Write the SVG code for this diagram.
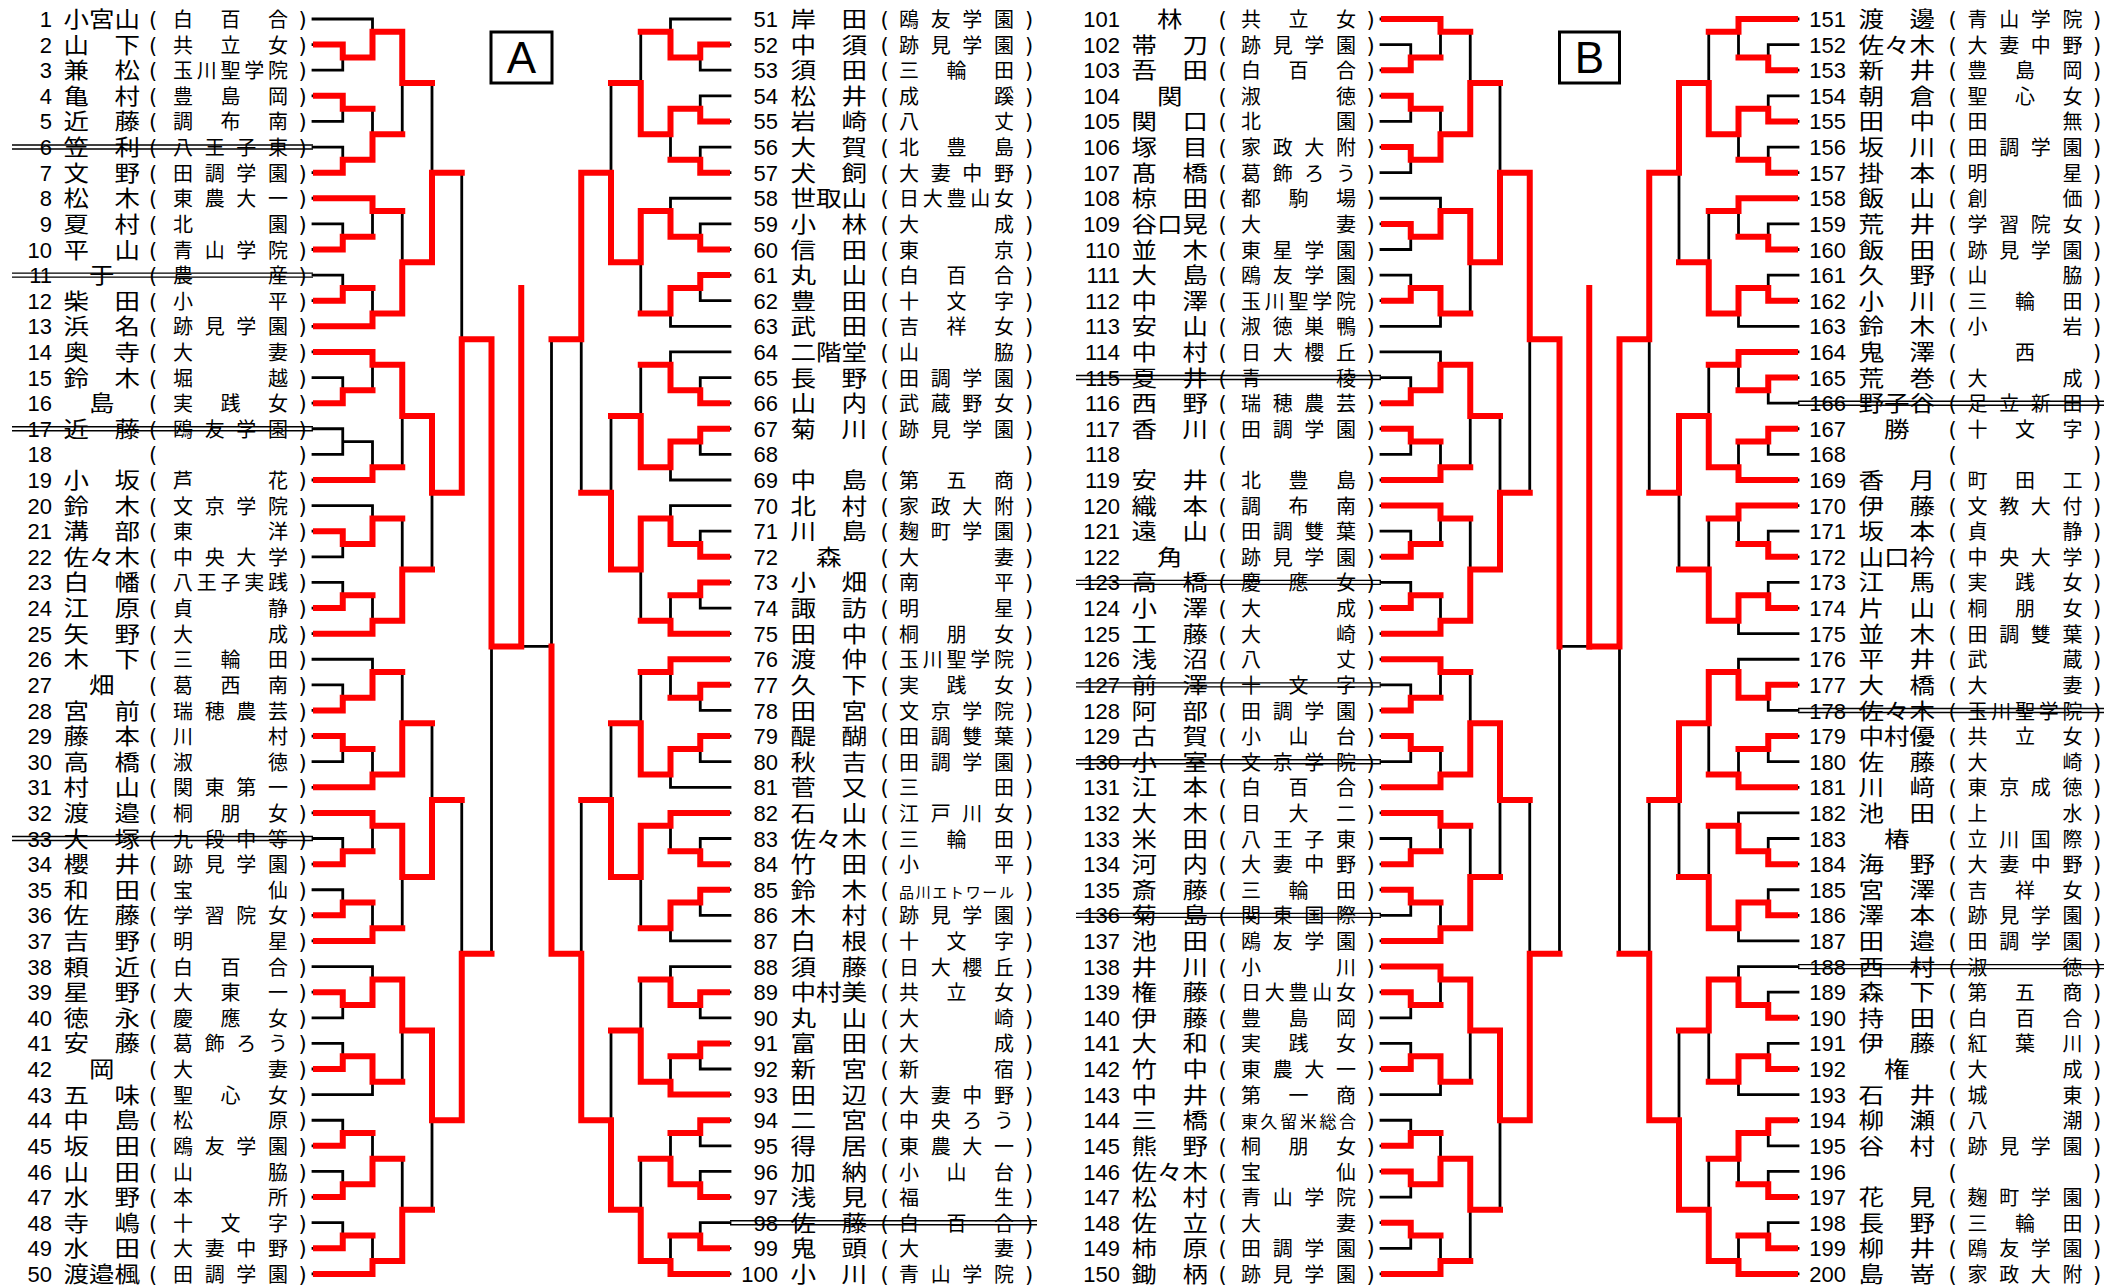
<svg xmlns="http://www.w3.org/2000/svg" width="2104" height="1286" viewBox="0 0 2104 1286">
<style>
text{fill:#000}
.n{font-family:"Liberation Sans",Arial,sans-serif;font-size:22px;text-anchor:end}
.m{font-family:"Noto Sans CJK JP","Noto Sans CJK SC",sans-serif;font-size:22px}
.s{font-family:"Noto Sans CJK JP","Noto Sans CJK SC",sans-serif;font-size:20px}
.p{font-family:"DejaVu Sans","Liberation Sans",sans-serif;font-size:21px}
.sk{fill:none;stroke:#000;stroke-width:2.8;stroke-linecap:square;vector-effect:non-scaling-stroke}
.rd{fill:none;stroke:#f00;stroke-width:6;stroke-linecap:square;stroke-linejoin:miter;vector-effect:non-scaling-stroke}
.st{fill:none;stroke:#000;stroke-width:1.4}
.bx{fill:#fff;stroke:#000;stroke-width:3}
.lb{font-family:"Liberation Sans",Arial,sans-serif;font-size:44px;text-anchor:middle}
</style>
<defs>
<path id="sk" class="sk" d="M0 1H2M0 8H2M0 13H2M0 14H2M0 19H2M0 20H2M0 25H2M0 26H2M0 31H2M0 32H2M0 37H2M0 38H2M0 43H2M0 50H2M0 2H1V3H0M0 4H1V5H0M0 6H1V7H0M0 9H1V10H0M0 11H1V12H0M0 15H1V16H0M0 17H1V18H0M0 21H1V22H0M0 23H1V24H0M0 27H1V28H0M0 29H1V30H0M0 33H1V34H0M0 35H1V36H0M0 39H1V40H0M0 41H1V42H0M0 44H1V45H0M0 46H1V47H0M0 48H1V49H0M1 2.5H2M1 4.5H2M1 6.5H2M1 9.5H2M1 11.5H2M1 15.5H2M1 17.5H2M1 21.5H2M1 23.5H2M1 27.5H2M1 29.5H2M1 33.5H2M1 35.5H2M1 39.5H2M1 41.5H2M1 44.5H2M1 46.5H2M1 48.5H2M2 1V2.5M2 4.5V6.5M2 8V9.5M2 11.5V13M2 14V15.5M2 17.5V19M2 20V21.5M2 23.5V25M2 26V27.5M2 29.5V31M2 32V33.5M2 35.5V37M2 38V39.5M2 41.5V43M2 44.5V46.5M2 48.5V50M2 1.5H3M2 5.5H3M2 8.5H3M2 12.5H3M2 14.5H3M2 18.5H3M2 20.5H3M2 24.5H3M2 26.5H3M2 30.5H3M2 32.5H3M2 36.5H3M2 38.5H3M2 42.5H3M2 45.5H3M2 49.5H3M3 1.5V5.5M3 8.5V12.5M3 14.5V18.5M3 20.5V24.5M3 26.5V30.5M3 32.5V36.5M3 38.5V42.5M3 45.5V49.5M3 3.5H4M3 10.5H4M3 16.5H4M3 22.5H4M3 28.5H4M3 34.5H4M3 40.5H4M3 47.5H4M4 3.5V10.5M4 16.5V22.5M4 28.5V34.5M4 40.5V47.5M4 7H5M4 19.5H5M4 31.5H5M4 44H5M5 7V19.5M5 31.5V44M5 13.5H6M5 37.5H6M6 13.5V37.5M6 25.5H7"/>
</defs>
<g id="connectors">
<use href="#sk" transform="matrix(29.75 0 0 25.61 313 -6.61)"/>
<use href="#sk" transform="matrix(-29.75 0 0 25.61 730 -6.61)"/>
<use href="#sk" transform="matrix(29.75 0 0 25.61 1381 -6.61)"/>
<use href="#sk" transform="matrix(-29.75 0 0 25.61 1798 -6.61)"/>
<path class="rd" transform="matrix(29.75 0 0 25.61 313 -6.61)" d="M.1 2H1V2.5H2M.1 4H1V4.5H2M.1 7H1V6.5H2M.1 10H1V9.5H2M.1 12H1V11.5H2M.1 16H1V15.5H2M.1 21H1V21.5H2M.1 24H1V23.5H2M.1 28H1V27.5H2M.1 29H1V29.5H2M.1 34H1V33.5H2M.1 36H1V35.5H2M.1 39H1V39.5H2M.1 42H1V41.5H2M.1 45H1V44.5H2M.1 47H1V46.5H2M.1 49H1V48.5H2M2 2.5V1.5H3M2 6.5V5.5H3M.1 8H2V8.5H3M.1 13H2V12.5H3M.1 14H2V14.5H3M.1 19H2V18.5H3M2 21.5V20.5H3M.1 25H2V24.5H3M2 27.5V26.5H3M.1 31H2V30.5H3M.1 32H2V32.5H3M.1 37H2V36.5H3M2 39.5V38.5H3M2 41.5V42.5H3M2 46.5V45.5H3M.1 50H2V49.5H3M3 1.5V3.5H4M3 12.5V10.5H4M3 14.5V16.5H4M3 24.5V22.5H4M3 30.5V28.5H4M3 32.5V34.5H4M3 38.5V40.5H4M3 49.5V47.5H4M4 10.5V7H5M4 16.5V19.5H5M4 34.5V31.5H5M4 40.5V44H5M5 19.5V13.5H6M5 44V37.5H6M6 13.5V25.5H7M7 11.5V25.5"/>
<path class="rd" transform="matrix(-29.75 0 0 25.61 730 -6.61)" d="M.1 2H1V2.5H2M.1 5H1V4.5H2M.1 7H1V6.5H2M.1 10H1V9.5H2M.1 11H1V11.5H2M.1 16H1V15.5H2M.1 17H1V17.5H2M.1 22H1V21.5H2M.1 23H1V23.5H2M.1 27H1V27.5H2M.1 29H1V29.5H2M.1 34H1V33.5H2M.1 35H1V35.5H2M.1 39H1V39.5H2M.1 41H1V41.5H2M.1 44H1V44.5H2M.1 47H1V46.5H2M.1 49H1V48.5H2M2 2.5V1.5H3M2 4.5V5.5H3M2 9.5V8.5H3M2 11.5V12.5H3M2 15.5V14.5H3M2 17.5V18.5H3M2 21.5V20.5H3M.1 25H2V24.5H3M.1 26H2V26.5H3M2 29.5V30.5H3M.1 32H2V32.5H3M2 35.5V36.5H3M2 39.5V38.5H3M.1 43H2V42.5H3M2 46.5V45.5H3M.1 50H2V49.5H3M3 5.5V3.5H4M3 8.5V10.5H4M3 18.5V16.5H4M3 20.5V22.5H4M3 30.5V28.5H4M3 32.5V34.5H4M3 42.5V40.5H4M3 49.5V47.5H4M4 10.5V7H5M4 22.5V19.5H5M4 34.5V31.5H5M4 47.5V44H5M5 7V13.5H6M5 44V37.5H6M6 37.5V25.5"/>
<path class="rd" transform="matrix(29.75 0 0 25.61 1381 -6.61)" d="M.1 3H1V2.5H2M.1 4H1V4.5H2M.1 6H1V6.5H2M.1 9H1V9.5H2M.1 12H1V11.5H2M.1 16H1V15.5H2M.1 17H1V17.5H2M.1 22H1V21.5H2M.1 24H1V23.5H2M.1 28H1V27.5H2M.1 29H1V29.5H2M.1 34H1V33.5H2M.1 35H1V35.5H2M.1 39H1V39.5H2M.1 42H1V41.5H2M.1 45H1V44.5H2M.1 46H1V46.5H2M.1 48H1V48.5H2M.1 1H2V1.5H3M2 6.5V5.5H3M2 9.5V8.5H3M2 11.5V12.5H3M2 15.5V14.5H3M.1 19H2V18.5H3M.1 20H2V20.5H3M.1 25H2V24.5H3M.1 26H2V26.5H3M.1 31H2V30.5H3M.1 32H2V32.5H3M.1 37H2V36.5H3M.1 38H2V38.5H3M2 41.5V42.5H3M2 46.5V45.5H3M.1 50H2V49.5H3M3 5.5V3.5H4M3 8.5V10.5H4M3 14.5V16.5H4M3 24.5V22.5H4M3 30.5V28.5H4M3 36.5V34.5H4M3 38.5V40.5H4M3 45.5V47.5H4M4 10.5V7H5M4 22.5V19.5H5M4 28.5V31.5H5M4 40.5V44H5M5 7V13.5H6M5 44V37.5H6M6 13.5V25.5M7 11.5V25.5"/>
<path class="rd" transform="matrix(-29.75 0 0 25.61 1798 -6.61)" d="M.1 3H1V2.5H2M.1 5H1V4.5H2M.1 7H1V6.5H2M.1 10H1V9.5H2M.1 12H1V11.5H2M.1 15H1V15.5H2M.1 17H1V17.5H2M.1 22H1V21.5H2M.1 24H1V23.5H2M.1 27H1V27.5H2M.1 29H1V29.5H2M.1 34H1V33.5H2M.1 36H1V35.5H2M.1 40H1V39.5H2M.1 42H1V41.5H2M.1 44H1V44.5H2M.1 47H1V46.5H2M.1 49H1V48.5H2M.1 1H2V1.5H3M2 4.5V5.5H3M.1 8H2V8.5H3M2 11.5V12.5H3M.1 14H2V14.5H3M.1 19H2V18.5H3M.1 20H2V20.5H3M2 23.5V24.5H3M2 27.5V26.5H3M.1 31H2V30.5H3M2 33.5V32.5H3M2 35.5V36.5H3M2 39.5V38.5H3M2 41.5V42.5H3M2 44.5V45.5H3M.1 50H2V49.5H3M3 5.5V3.5H4M3 12.5V10.5H4M3 18.5V16.5H4M3 24.5V22.5H4M3 26.5V28.5H4M3 36.5V34.5H4M3 38.5V40.5H4M3 49.5V47.5H4M4 3.5V7H5M4 16.5V19.5H5M4 28.5V31.5H5M4 47.5V44H5M5 7V13.5H6M5 44V37.5H6M6 13.5V25.5H7"/>
</g>
<g id="strikes">
<path class="st" d="M12 145.05H313M12 149.05H313M12 273.1H313M12 277.1H313M12 426.8H313M12 430.8H313M12 836.5H313M12 840.5H313M730 1220.7H1037M730 1224.7H1037M1076 375.5H1381M1076 379.5H1381M1076 580.4H1381M1076 584.4H1381M1076 682.9H1381M1076 686.9H1381M1076 759.7H1381M1076 763.7H1381M1076 913.4H1381M1076 917.4H1381M1798 401.2H2104M1798 405.2H2104M1798 708.5H2104M1798 712.5H2104M1798 964.6H2104M1798 968.6H2104"/>
</g>
<g id="boxA"><rect class="bx" x="491" y="32" width="61" height="51"/><text class="lb" x="521.5" y="73">A</text></g>
<g id="boxB"><rect class="bx" x="1559.5" y="32" width="60" height="51"/><text class="lb" x="1589.5" y="73">B</text></g>
<g id="colA">
<g id="e1"><text class="n" x="52" y="27">1</text><text y="27"><tspan class="m" x="63.6" textLength="76.4" lengthAdjust="spacingAndGlyphs">小宮山</tspan><tspan class="p" x="149">(</tspan><tspan class="s" x="173" textLength="115">白百合</tspan><tspan class="p" x="298.5">)</tspan></text></g>
<g id="e2"><text class="n" x="52" y="52.6">2</text><text y="52.6"><tspan class="m" x="63.6" textLength="76.4" lengthAdjust="spacingAndGlyphs">山　下</tspan><tspan class="p" x="149">(</tspan><tspan class="s" x="173" textLength="115">共立女</tspan><tspan class="p" x="298.5">)</tspan></text></g>
<g id="e3"><text class="n" x="52" y="78.2">3</text><text y="78.2"><tspan class="m" x="63.6" textLength="76.4" lengthAdjust="spacingAndGlyphs">兼　松</tspan><tspan class="p" x="149">(</tspan><tspan class="s" x="173" textLength="115">玉川聖学院</tspan><tspan class="p" x="298.5">)</tspan></text></g>
<g id="e4"><text class="n" x="52" y="103.8">4</text><text y="103.8"><tspan class="m" x="63.6" textLength="76.4" lengthAdjust="spacingAndGlyphs">亀　村</tspan><tspan class="p" x="149">(</tspan><tspan class="s" x="173" textLength="115">豊島岡</tspan><tspan class="p" x="298.5">)</tspan></text></g>
<g id="e5"><text class="n" x="52" y="129.4">5</text><text y="129.4"><tspan class="m" x="63.6" textLength="76.4" lengthAdjust="spacingAndGlyphs">近　藤</tspan><tspan class="p" x="149">(</tspan><tspan class="s" x="173" textLength="115">調布南</tspan><tspan class="p" x="298.5">)</tspan></text></g>
<g id="e6"><text class="n" x="52" y="155.1">6</text><text y="155.1"><tspan class="m" x="63.6" textLength="76.4" lengthAdjust="spacingAndGlyphs">笠　利</tspan><tspan class="p" x="149">(</tspan><tspan class="s" x="173" textLength="115">八王子東</tspan><tspan class="p" x="298.5">)</tspan></text></g>
<g id="e7"><text class="n" x="52" y="180.7">7</text><text y="180.7"><tspan class="m" x="63.6" textLength="76.4" lengthAdjust="spacingAndGlyphs">文　野</tspan><tspan class="p" x="149">(</tspan><tspan class="s" x="173" textLength="115">田調学園</tspan><tspan class="p" x="298.5">)</tspan></text></g>
<g id="e8"><text class="n" x="52" y="206.3">8</text><text y="206.3"><tspan class="m" x="63.6" textLength="76.4" lengthAdjust="spacingAndGlyphs">松　木</tspan><tspan class="p" x="149">(</tspan><tspan class="s" x="173" textLength="115">東農大一</tspan><tspan class="p" x="298.5">)</tspan></text></g>
<g id="e9"><text class="n" x="52" y="231.9">9</text><text y="231.9"><tspan class="m" x="63.6" textLength="76.4" lengthAdjust="spacingAndGlyphs">夏　村</tspan><tspan class="p" x="149">(</tspan><tspan class="s" x="173" textLength="115">北園</tspan><tspan class="p" x="298.5">)</tspan></text></g>
<g id="e10"><text class="n" x="52" y="257.5">10</text><text y="257.5"><tspan class="m" x="63.6" textLength="76.4" lengthAdjust="spacingAndGlyphs">平　山</tspan><tspan class="p" x="149">(</tspan><tspan class="s" x="173" textLength="115">青山学院</tspan><tspan class="p" x="298.5">)</tspan></text></g>
<g id="e11"><text class="n" x="52" y="283.1">11</text><text y="283.1"><tspan class="m" x="63.6" textLength="76.4" lengthAdjust="spacingAndGlyphs">　于　</tspan><tspan class="p" x="149">(</tspan><tspan class="s" x="173" textLength="115">農産</tspan><tspan class="p" x="298.5">)</tspan></text></g>
<g id="e12"><text class="n" x="52" y="308.7">12</text><text y="308.7"><tspan class="m" x="63.6" textLength="76.4" lengthAdjust="spacingAndGlyphs">柴　田</tspan><tspan class="p" x="149">(</tspan><tspan class="s" x="173" textLength="115">小平</tspan><tspan class="p" x="298.5">)</tspan></text></g>
<g id="e13"><text class="n" x="52" y="334.3">13</text><text y="334.3"><tspan class="m" x="63.6" textLength="76.4" lengthAdjust="spacingAndGlyphs">浜　名</tspan><tspan class="p" x="149">(</tspan><tspan class="s" x="173" textLength="115">跡見学園</tspan><tspan class="p" x="298.5">)</tspan></text></g>
<g id="e14"><text class="n" x="52" y="359.9">14</text><text y="359.9"><tspan class="m" x="63.6" textLength="76.4" lengthAdjust="spacingAndGlyphs">奥　寺</tspan><tspan class="p" x="149">(</tspan><tspan class="s" x="173" textLength="115">大妻</tspan><tspan class="p" x="298.5">)</tspan></text></g>
<g id="e15"><text class="n" x="52" y="385.5">15</text><text y="385.5"><tspan class="m" x="63.6" textLength="76.4" lengthAdjust="spacingAndGlyphs">鈴　木</tspan><tspan class="p" x="149">(</tspan><tspan class="s" x="173" textLength="115">堀越</tspan><tspan class="p" x="298.5">)</tspan></text></g>
<g id="e16"><text class="n" x="52" y="411.2">16</text><text y="411.2"><tspan class="m" x="63.6" textLength="76.4" lengthAdjust="spacingAndGlyphs">　島　</tspan><tspan class="p" x="149">(</tspan><tspan class="s" x="173" textLength="115">実践女</tspan><tspan class="p" x="298.5">)</tspan></text></g>
<g id="e17"><text class="n" x="52" y="436.8">17</text><text y="436.8"><tspan class="m" x="63.6" textLength="76.4" lengthAdjust="spacingAndGlyphs">近　藤</tspan><tspan class="p" x="149">(</tspan><tspan class="s" x="173" textLength="115">鴎友学園</tspan><tspan class="p" x="298.5">)</tspan></text></g>
<g id="e18"><text class="n" x="52" y="462.4">18</text><text y="462.4"><tspan class="p" x="149">(</tspan><tspan class="p" x="298.5">)</tspan></text></g>
<g id="e19"><text class="n" x="52" y="488">19</text><text y="488"><tspan class="m" x="63.6" textLength="76.4" lengthAdjust="spacingAndGlyphs">小　坂</tspan><tspan class="p" x="149">(</tspan><tspan class="s" x="173" textLength="115">芦花</tspan><tspan class="p" x="298.5">)</tspan></text></g>
<g id="e20"><text class="n" x="52" y="513.6">20</text><text y="513.6"><tspan class="m" x="63.6" textLength="76.4" lengthAdjust="spacingAndGlyphs">鈴　木</tspan><tspan class="p" x="149">(</tspan><tspan class="s" x="173" textLength="115">文京学院</tspan><tspan class="p" x="298.5">)</tspan></text></g>
<g id="e21"><text class="n" x="52" y="539.2">21</text><text y="539.2"><tspan class="m" x="63.6" textLength="76.4" lengthAdjust="spacingAndGlyphs">溝　部</tspan><tspan class="p" x="149">(</tspan><tspan class="s" x="173" textLength="115">東洋</tspan><tspan class="p" x="298.5">)</tspan></text></g>
<g id="e22"><text class="n" x="52" y="564.8">22</text><text y="564.8"><tspan class="m" x="63.6" textLength="76.4" lengthAdjust="spacingAndGlyphs">佐々木</tspan><tspan class="p" x="149">(</tspan><tspan class="s" x="173" textLength="115">中央大学</tspan><tspan class="p" x="298.5">)</tspan></text></g>
<g id="e23"><text class="n" x="52" y="590.4">23</text><text y="590.4"><tspan class="m" x="63.6" textLength="76.4" lengthAdjust="spacingAndGlyphs">白　幡</tspan><tspan class="p" x="149">(</tspan><tspan class="s" x="173" textLength="115">八王子実践</tspan><tspan class="p" x="298.5">)</tspan></text></g>
<g id="e24"><text class="n" x="52" y="616">24</text><text y="616"><tspan class="m" x="63.6" textLength="76.4" lengthAdjust="spacingAndGlyphs">江　原</tspan><tspan class="p" x="149">(</tspan><tspan class="s" x="173" textLength="115">貞静</tspan><tspan class="p" x="298.5">)</tspan></text></g>
<g id="e25"><text class="n" x="52" y="641.6">25</text><text y="641.6"><tspan class="m" x="63.6" textLength="76.4" lengthAdjust="spacingAndGlyphs">矢　野</tspan><tspan class="p" x="149">(</tspan><tspan class="s" x="173" textLength="115">大成</tspan><tspan class="p" x="298.5">)</tspan></text></g>
<g id="e26"><text class="n" x="52" y="667.3">26</text><text y="667.3"><tspan class="m" x="63.6" textLength="76.4" lengthAdjust="spacingAndGlyphs">木　下</tspan><tspan class="p" x="149">(</tspan><tspan class="s" x="173" textLength="115">三輪田</tspan><tspan class="p" x="298.5">)</tspan></text></g>
<g id="e27"><text class="n" x="52" y="692.9">27</text><text y="692.9"><tspan class="m" x="63.6" textLength="76.4" lengthAdjust="spacingAndGlyphs">　畑　</tspan><tspan class="p" x="149">(</tspan><tspan class="s" x="173" textLength="115">葛西南</tspan><tspan class="p" x="298.5">)</tspan></text></g>
<g id="e28"><text class="n" x="52" y="718.5">28</text><text y="718.5"><tspan class="m" x="63.6" textLength="76.4" lengthAdjust="spacingAndGlyphs">宮　前</tspan><tspan class="p" x="149">(</tspan><tspan class="s" x="173" textLength="115">瑞穂農芸</tspan><tspan class="p" x="298.5">)</tspan></text></g>
<g id="e29"><text class="n" x="52" y="744.1">29</text><text y="744.1"><tspan class="m" x="63.6" textLength="76.4" lengthAdjust="spacingAndGlyphs">藤　本</tspan><tspan class="p" x="149">(</tspan><tspan class="s" x="173" textLength="115">川村</tspan><tspan class="p" x="298.5">)</tspan></text></g>
<g id="e30"><text class="n" x="52" y="769.7">30</text><text y="769.7"><tspan class="m" x="63.6" textLength="76.4" lengthAdjust="spacingAndGlyphs">高　橋</tspan><tspan class="p" x="149">(</tspan><tspan class="s" x="173" textLength="115">淑徳</tspan><tspan class="p" x="298.5">)</tspan></text></g>
<g id="e31"><text class="n" x="52" y="795.3">31</text><text y="795.3"><tspan class="m" x="63.6" textLength="76.4" lengthAdjust="spacingAndGlyphs">村　山</tspan><tspan class="p" x="149">(</tspan><tspan class="s" x="173" textLength="115">関東第一</tspan><tspan class="p" x="298.5">)</tspan></text></g>
<g id="e32"><text class="n" x="52" y="820.9">32</text><text y="820.9"><tspan class="m" x="63.6" textLength="76.4" lengthAdjust="spacingAndGlyphs">渡　邉</tspan><tspan class="p" x="149">(</tspan><tspan class="s" x="173" textLength="115">桐朋女</tspan><tspan class="p" x="298.5">)</tspan></text></g>
<g id="e33"><text class="n" x="52" y="846.5">33</text><text y="846.5"><tspan class="m" x="63.6" textLength="76.4" lengthAdjust="spacingAndGlyphs">大　塚</tspan><tspan class="p" x="149">(</tspan><tspan class="s" x="173" textLength="115">九段中等</tspan><tspan class="p" x="298.5">)</tspan></text></g>
<g id="e34"><text class="n" x="52" y="872.1">34</text><text y="872.1"><tspan class="m" x="63.6" textLength="76.4" lengthAdjust="spacingAndGlyphs">櫻　井</tspan><tspan class="p" x="149">(</tspan><tspan class="s" x="173" textLength="115">跡見学園</tspan><tspan class="p" x="298.5">)</tspan></text></g>
<g id="e35"><text class="n" x="52" y="897.7">35</text><text y="897.7"><tspan class="m" x="63.6" textLength="76.4" lengthAdjust="spacingAndGlyphs">和　田</tspan><tspan class="p" x="149">(</tspan><tspan class="s" x="173" textLength="115">宝仙</tspan><tspan class="p" x="298.5">)</tspan></text></g>
<g id="e36"><text class="n" x="52" y="923.4">36</text><text y="923.4"><tspan class="m" x="63.6" textLength="76.4" lengthAdjust="spacingAndGlyphs">佐　藤</tspan><tspan class="p" x="149">(</tspan><tspan class="s" x="173" textLength="115">学習院女</tspan><tspan class="p" x="298.5">)</tspan></text></g>
<g id="e37"><text class="n" x="52" y="949">37</text><text y="949"><tspan class="m" x="63.6" textLength="76.4" lengthAdjust="spacingAndGlyphs">吉　野</tspan><tspan class="p" x="149">(</tspan><tspan class="s" x="173" textLength="115">明星</tspan><tspan class="p" x="298.5">)</tspan></text></g>
<g id="e38"><text class="n" x="52" y="974.6">38</text><text y="974.6"><tspan class="m" x="63.6" textLength="76.4" lengthAdjust="spacingAndGlyphs">頼　近</tspan><tspan class="p" x="149">(</tspan><tspan class="s" x="173" textLength="115">白百合</tspan><tspan class="p" x="298.5">)</tspan></text></g>
<g id="e39"><text class="n" x="52" y="1000.2">39</text><text y="1000.2"><tspan class="m" x="63.6" textLength="76.4" lengthAdjust="spacingAndGlyphs">星　野</tspan><tspan class="p" x="149">(</tspan><tspan class="s" x="173" textLength="115">大東一</tspan><tspan class="p" x="298.5">)</tspan></text></g>
<g id="e40"><text class="n" x="52" y="1025.8">40</text><text y="1025.8"><tspan class="m" x="63.6" textLength="76.4" lengthAdjust="spacingAndGlyphs">徳　永</tspan><tspan class="p" x="149">(</tspan><tspan class="s" x="173" textLength="115">慶應女</tspan><tspan class="p" x="298.5">)</tspan></text></g>
<g id="e41"><text class="n" x="52" y="1051.4">41</text><text y="1051.4"><tspan class="m" x="63.6" textLength="76.4" lengthAdjust="spacingAndGlyphs">安　藤</tspan><tspan class="p" x="149">(</tspan><tspan class="s" x="173" textLength="115">葛飾ろう</tspan><tspan class="p" x="298.5">)</tspan></text></g>
<g id="e42"><text class="n" x="52" y="1077">42</text><text y="1077"><tspan class="m" x="63.6" textLength="76.4" lengthAdjust="spacingAndGlyphs">　岡　</tspan><tspan class="p" x="149">(</tspan><tspan class="s" x="173" textLength="115">大妻</tspan><tspan class="p" x="298.5">)</tspan></text></g>
<g id="e43"><text class="n" x="52" y="1102.6">43</text><text y="1102.6"><tspan class="m" x="63.6" textLength="76.4" lengthAdjust="spacingAndGlyphs">五　味</tspan><tspan class="p" x="149">(</tspan><tspan class="s" x="173" textLength="115">聖心女</tspan><tspan class="p" x="298.5">)</tspan></text></g>
<g id="e44"><text class="n" x="52" y="1128.2">44</text><text y="1128.2"><tspan class="m" x="63.6" textLength="76.4" lengthAdjust="spacingAndGlyphs">中　島</tspan><tspan class="p" x="149">(</tspan><tspan class="s" x="173" textLength="115">松原</tspan><tspan class="p" x="298.5">)</tspan></text></g>
<g id="e45"><text class="n" x="52" y="1153.8">45</text><text y="1153.8"><tspan class="m" x="63.6" textLength="76.4" lengthAdjust="spacingAndGlyphs">坂　田</tspan><tspan class="p" x="149">(</tspan><tspan class="s" x="173" textLength="115">鴎友学園</tspan><tspan class="p" x="298.5">)</tspan></text></g>
<g id="e46"><text class="n" x="52" y="1179.5">46</text><text y="1179.5"><tspan class="m" x="63.6" textLength="76.4" lengthAdjust="spacingAndGlyphs">山　田</tspan><tspan class="p" x="149">(</tspan><tspan class="s" x="173" textLength="115">山脇</tspan><tspan class="p" x="298.5">)</tspan></text></g>
<g id="e47"><text class="n" x="52" y="1205.1">47</text><text y="1205.1"><tspan class="m" x="63.6" textLength="76.4" lengthAdjust="spacingAndGlyphs">水　野</tspan><tspan class="p" x="149">(</tspan><tspan class="s" x="173" textLength="115">本所</tspan><tspan class="p" x="298.5">)</tspan></text></g>
<g id="e48"><text class="n" x="52" y="1230.7">48</text><text y="1230.7"><tspan class="m" x="63.6" textLength="76.4" lengthAdjust="spacingAndGlyphs">寺　嶋</tspan><tspan class="p" x="149">(</tspan><tspan class="s" x="173" textLength="115">十文字</tspan><tspan class="p" x="298.5">)</tspan></text></g>
<g id="e49"><text class="n" x="52" y="1256.3">49</text><text y="1256.3"><tspan class="m" x="63.6" textLength="76.4" lengthAdjust="spacingAndGlyphs">水　田</tspan><tspan class="p" x="149">(</tspan><tspan class="s" x="173" textLength="115">大妻中野</tspan><tspan class="p" x="298.5">)</tspan></text></g>
<g id="e50"><text class="n" x="52" y="1281.9">50</text><text y="1281.9"><tspan class="m" x="63.6" textLength="76.4" lengthAdjust="spacingAndGlyphs">渡邉楓</tspan><tspan class="p" x="149">(</tspan><tspan class="s" x="173" textLength="115">田調学園</tspan><tspan class="p" x="298.5">)</tspan></text></g>
</g>
<g id="colB">
<g id="e51"><text class="n" x="778" y="27">51</text><text y="27"><tspan class="m" x="790.4" textLength="76.8" lengthAdjust="spacingAndGlyphs">岸　田</tspan><tspan class="p" x="880.5">(</tspan><tspan class="s" x="899" textLength="115">鴎友学園</tspan><tspan class="p" x="1025">)</tspan></text></g>
<g id="e52"><text class="n" x="778" y="52.6">52</text><text y="52.6"><tspan class="m" x="790.4" textLength="76.8" lengthAdjust="spacingAndGlyphs">中　須</tspan><tspan class="p" x="880.5">(</tspan><tspan class="s" x="899" textLength="115">跡見学園</tspan><tspan class="p" x="1025">)</tspan></text></g>
<g id="e53"><text class="n" x="778" y="78.2">53</text><text y="78.2"><tspan class="m" x="790.4" textLength="76.8" lengthAdjust="spacingAndGlyphs">須　田</tspan><tspan class="p" x="880.5">(</tspan><tspan class="s" x="899" textLength="115">三輪田</tspan><tspan class="p" x="1025">)</tspan></text></g>
<g id="e54"><text class="n" x="778" y="103.8">54</text><text y="103.8"><tspan class="m" x="790.4" textLength="76.8" lengthAdjust="spacingAndGlyphs">松　井</tspan><tspan class="p" x="880.5">(</tspan><tspan class="s" x="899" textLength="115">成蹊</tspan><tspan class="p" x="1025">)</tspan></text></g>
<g id="e55"><text class="n" x="778" y="129.4">55</text><text y="129.4"><tspan class="m" x="790.4" textLength="76.8" lengthAdjust="spacingAndGlyphs">岩　崎</tspan><tspan class="p" x="880.5">(</tspan><tspan class="s" x="899" textLength="115">八丈</tspan><tspan class="p" x="1025">)</tspan></text></g>
<g id="e56"><text class="n" x="778" y="155.1">56</text><text y="155.1"><tspan class="m" x="790.4" textLength="76.8" lengthAdjust="spacingAndGlyphs">大　賀</tspan><tspan class="p" x="880.5">(</tspan><tspan class="s" x="899" textLength="115">北豊島</tspan><tspan class="p" x="1025">)</tspan></text></g>
<g id="e57"><text class="n" x="778" y="180.7">57</text><text y="180.7"><tspan class="m" x="790.4" textLength="76.8" lengthAdjust="spacingAndGlyphs">犬　飼</tspan><tspan class="p" x="880.5">(</tspan><tspan class="s" x="899" textLength="115">大妻中野</tspan><tspan class="p" x="1025">)</tspan></text></g>
<g id="e58"><text class="n" x="778" y="206.3">58</text><text y="206.3"><tspan class="m" x="790.4" textLength="76.8" lengthAdjust="spacingAndGlyphs">世取山</tspan><tspan class="p" x="880.5">(</tspan><tspan class="s" x="899" textLength="115">日大豊山女</tspan><tspan class="p" x="1025">)</tspan></text></g>
<g id="e59"><text class="n" x="778" y="231.9">59</text><text y="231.9"><tspan class="m" x="790.4" textLength="76.8" lengthAdjust="spacingAndGlyphs">小　林</tspan><tspan class="p" x="880.5">(</tspan><tspan class="s" x="899" textLength="115">大成</tspan><tspan class="p" x="1025">)</tspan></text></g>
<g id="e60"><text class="n" x="778" y="257.5">60</text><text y="257.5"><tspan class="m" x="790.4" textLength="76.8" lengthAdjust="spacingAndGlyphs">信　田</tspan><tspan class="p" x="880.5">(</tspan><tspan class="s" x="899" textLength="115">東京</tspan><tspan class="p" x="1025">)</tspan></text></g>
<g id="e61"><text class="n" x="778" y="283.1">61</text><text y="283.1"><tspan class="m" x="790.4" textLength="76.8" lengthAdjust="spacingAndGlyphs">丸　山</tspan><tspan class="p" x="880.5">(</tspan><tspan class="s" x="899" textLength="115">白百合</tspan><tspan class="p" x="1025">)</tspan></text></g>
<g id="e62"><text class="n" x="778" y="308.7">62</text><text y="308.7"><tspan class="m" x="790.4" textLength="76.8" lengthAdjust="spacingAndGlyphs">豊　田</tspan><tspan class="p" x="880.5">(</tspan><tspan class="s" x="899" textLength="115">十文字</tspan><tspan class="p" x="1025">)</tspan></text></g>
<g id="e63"><text class="n" x="778" y="334.3">63</text><text y="334.3"><tspan class="m" x="790.4" textLength="76.8" lengthAdjust="spacingAndGlyphs">武　田</tspan><tspan class="p" x="880.5">(</tspan><tspan class="s" x="899" textLength="115">吉祥女</tspan><tspan class="p" x="1025">)</tspan></text></g>
<g id="e64"><text class="n" x="778" y="359.9">64</text><text y="359.9"><tspan class="m" x="790.4" textLength="76.8" lengthAdjust="spacingAndGlyphs">二階堂</tspan><tspan class="p" x="880.5">(</tspan><tspan class="s" x="899" textLength="115">山脇</tspan><tspan class="p" x="1025">)</tspan></text></g>
<g id="e65"><text class="n" x="778" y="385.5">65</text><text y="385.5"><tspan class="m" x="790.4" textLength="76.8" lengthAdjust="spacingAndGlyphs">長　野</tspan><tspan class="p" x="880.5">(</tspan><tspan class="s" x="899" textLength="115">田調学園</tspan><tspan class="p" x="1025">)</tspan></text></g>
<g id="e66"><text class="n" x="778" y="411.2">66</text><text y="411.2"><tspan class="m" x="790.4" textLength="76.8" lengthAdjust="spacingAndGlyphs">山　内</tspan><tspan class="p" x="880.5">(</tspan><tspan class="s" x="899" textLength="115">武蔵野女</tspan><tspan class="p" x="1025">)</tspan></text></g>
<g id="e67"><text class="n" x="778" y="436.8">67</text><text y="436.8"><tspan class="m" x="790.4" textLength="76.8" lengthAdjust="spacingAndGlyphs">菊　川</tspan><tspan class="p" x="880.5">(</tspan><tspan class="s" x="899" textLength="115">跡見学園</tspan><tspan class="p" x="1025">)</tspan></text></g>
<g id="e68"><text class="n" x="778" y="462.4">68</text><text y="462.4"><tspan class="p" x="880.5">(</tspan><tspan class="p" x="1025">)</tspan></text></g>
<g id="e69"><text class="n" x="778" y="488">69</text><text y="488"><tspan class="m" x="790.4" textLength="76.8" lengthAdjust="spacingAndGlyphs">中　島</tspan><tspan class="p" x="880.5">(</tspan><tspan class="s" x="899" textLength="115">第五商</tspan><tspan class="p" x="1025">)</tspan></text></g>
<g id="e70"><text class="n" x="778" y="513.6">70</text><text y="513.6"><tspan class="m" x="790.4" textLength="76.8" lengthAdjust="spacingAndGlyphs">北　村</tspan><tspan class="p" x="880.5">(</tspan><tspan class="s" x="899" textLength="115">家政大附</tspan><tspan class="p" x="1025">)</tspan></text></g>
<g id="e71"><text class="n" x="778" y="539.2">71</text><text y="539.2"><tspan class="m" x="790.4" textLength="76.8" lengthAdjust="spacingAndGlyphs">川　島</tspan><tspan class="p" x="880.5">(</tspan><tspan class="s" x="899" textLength="115">麹町学園</tspan><tspan class="p" x="1025">)</tspan></text></g>
<g id="e72"><text class="n" x="778" y="564.8">72</text><text y="564.8"><tspan class="m" x="790.4" textLength="76.8" lengthAdjust="spacingAndGlyphs">　森　</tspan><tspan class="p" x="880.5">(</tspan><tspan class="s" x="899" textLength="115">大妻</tspan><tspan class="p" x="1025">)</tspan></text></g>
<g id="e73"><text class="n" x="778" y="590.4">73</text><text y="590.4"><tspan class="m" x="790.4" textLength="76.8" lengthAdjust="spacingAndGlyphs">小　畑</tspan><tspan class="p" x="880.5">(</tspan><tspan class="s" x="899" textLength="115">南平</tspan><tspan class="p" x="1025">)</tspan></text></g>
<g id="e74"><text class="n" x="778" y="616">74</text><text y="616"><tspan class="m" x="790.4" textLength="76.8" lengthAdjust="spacingAndGlyphs">諏　訪</tspan><tspan class="p" x="880.5">(</tspan><tspan class="s" x="899" textLength="115">明星</tspan><tspan class="p" x="1025">)</tspan></text></g>
<g id="e75"><text class="n" x="778" y="641.6">75</text><text y="641.6"><tspan class="m" x="790.4" textLength="76.8" lengthAdjust="spacingAndGlyphs">田　中</tspan><tspan class="p" x="880.5">(</tspan><tspan class="s" x="899" textLength="115">桐朋女</tspan><tspan class="p" x="1025">)</tspan></text></g>
<g id="e76"><text class="n" x="778" y="667.3">76</text><text y="667.3"><tspan class="m" x="790.4" textLength="76.8" lengthAdjust="spacingAndGlyphs">渡　仲</tspan><tspan class="p" x="880.5">(</tspan><tspan class="s" x="899" textLength="115">玉川聖学院</tspan><tspan class="p" x="1025">)</tspan></text></g>
<g id="e77"><text class="n" x="778" y="692.9">77</text><text y="692.9"><tspan class="m" x="790.4" textLength="76.8" lengthAdjust="spacingAndGlyphs">久　下</tspan><tspan class="p" x="880.5">(</tspan><tspan class="s" x="899" textLength="115">実践女</tspan><tspan class="p" x="1025">)</tspan></text></g>
<g id="e78"><text class="n" x="778" y="718.5">78</text><text y="718.5"><tspan class="m" x="790.4" textLength="76.8" lengthAdjust="spacingAndGlyphs">田　宮</tspan><tspan class="p" x="880.5">(</tspan><tspan class="s" x="899" textLength="115">文京学院</tspan><tspan class="p" x="1025">)</tspan></text></g>
<g id="e79"><text class="n" x="778" y="744.1">79</text><text y="744.1"><tspan class="m" x="790.4" textLength="76.8" lengthAdjust="spacingAndGlyphs">醍　醐</tspan><tspan class="p" x="880.5">(</tspan><tspan class="s" x="899" textLength="115">田調雙葉</tspan><tspan class="p" x="1025">)</tspan></text></g>
<g id="e80"><text class="n" x="778" y="769.7">80</text><text y="769.7"><tspan class="m" x="790.4" textLength="76.8" lengthAdjust="spacingAndGlyphs">秋　吉</tspan><tspan class="p" x="880.5">(</tspan><tspan class="s" x="899" textLength="115">田調学園</tspan><tspan class="p" x="1025">)</tspan></text></g>
<g id="e81"><text class="n" x="778" y="795.3">81</text><text y="795.3"><tspan class="m" x="790.4" textLength="76.8" lengthAdjust="spacingAndGlyphs">菅　又</tspan><tspan class="p" x="880.5">(</tspan><tspan class="s" x="899" textLength="115">三田</tspan><tspan class="p" x="1025">)</tspan></text></g>
<g id="e82"><text class="n" x="778" y="820.9">82</text><text y="820.9"><tspan class="m" x="790.4" textLength="76.8" lengthAdjust="spacingAndGlyphs">石　山</tspan><tspan class="p" x="880.5">(</tspan><tspan class="s" x="899" textLength="115">江戸川女</tspan><tspan class="p" x="1025">)</tspan></text></g>
<g id="e83"><text class="n" x="778" y="846.5">83</text><text y="846.5"><tspan class="m" x="790.4" textLength="76.8" lengthAdjust="spacingAndGlyphs">佐々木</tspan><tspan class="p" x="880.5">(</tspan><tspan class="s" x="899" textLength="115">三輪田</tspan><tspan class="p" x="1025">)</tspan></text></g>
<g id="e84"><text class="n" x="778" y="872.1">84</text><text y="872.1"><tspan class="m" x="790.4" textLength="76.8" lengthAdjust="spacingAndGlyphs">竹　田</tspan><tspan class="p" x="880.5">(</tspan><tspan class="s" x="899" textLength="115">小平</tspan><tspan class="p" x="1025">)</tspan></text></g>
<g id="e85"><text class="n" x="778" y="897.7">85</text><text y="897.7"><tspan class="m" x="790.4" textLength="76.8" lengthAdjust="spacingAndGlyphs">鈴　木</tspan><tspan class="p" x="880.5">(</tspan><tspan class="s" x="899" textLength="115" style="font-size:15px">品川エトワール</tspan><tspan class="p" x="1025">)</tspan></text></g>
<g id="e86"><text class="n" x="778" y="923.4">86</text><text y="923.4"><tspan class="m" x="790.4" textLength="76.8" lengthAdjust="spacingAndGlyphs">木　村</tspan><tspan class="p" x="880.5">(</tspan><tspan class="s" x="899" textLength="115">跡見学園</tspan><tspan class="p" x="1025">)</tspan></text></g>
<g id="e87"><text class="n" x="778" y="949">87</text><text y="949"><tspan class="m" x="790.4" textLength="76.8" lengthAdjust="spacingAndGlyphs">白　根</tspan><tspan class="p" x="880.5">(</tspan><tspan class="s" x="899" textLength="115">十文字</tspan><tspan class="p" x="1025">)</tspan></text></g>
<g id="e88"><text class="n" x="778" y="974.6">88</text><text y="974.6"><tspan class="m" x="790.4" textLength="76.8" lengthAdjust="spacingAndGlyphs">須　藤</tspan><tspan class="p" x="880.5">(</tspan><tspan class="s" x="899" textLength="115">日大櫻丘</tspan><tspan class="p" x="1025">)</tspan></text></g>
<g id="e89"><text class="n" x="778" y="1000.2">89</text><text y="1000.2"><tspan class="m" x="790.4" textLength="76.8" lengthAdjust="spacingAndGlyphs">中村美</tspan><tspan class="p" x="880.5">(</tspan><tspan class="s" x="899" textLength="115">共立女</tspan><tspan class="p" x="1025">)</tspan></text></g>
<g id="e90"><text class="n" x="778" y="1025.8">90</text><text y="1025.8"><tspan class="m" x="790.4" textLength="76.8" lengthAdjust="spacingAndGlyphs">丸　山</tspan><tspan class="p" x="880.5">(</tspan><tspan class="s" x="899" textLength="115">大崎</tspan><tspan class="p" x="1025">)</tspan></text></g>
<g id="e91"><text class="n" x="778" y="1051.4">91</text><text y="1051.4"><tspan class="m" x="790.4" textLength="76.8" lengthAdjust="spacingAndGlyphs">富　田</tspan><tspan class="p" x="880.5">(</tspan><tspan class="s" x="899" textLength="115">大成</tspan><tspan class="p" x="1025">)</tspan></text></g>
<g id="e92"><text class="n" x="778" y="1077">92</text><text y="1077"><tspan class="m" x="790.4" textLength="76.8" lengthAdjust="spacingAndGlyphs">新　宮</tspan><tspan class="p" x="880.5">(</tspan><tspan class="s" x="899" textLength="115">新宿</tspan><tspan class="p" x="1025">)</tspan></text></g>
<g id="e93"><text class="n" x="778" y="1102.6">93</text><text y="1102.6"><tspan class="m" x="790.4" textLength="76.8" lengthAdjust="spacingAndGlyphs">田　辺</tspan><tspan class="p" x="880.5">(</tspan><tspan class="s" x="899" textLength="115">大妻中野</tspan><tspan class="p" x="1025">)</tspan></text></g>
<g id="e94"><text class="n" x="778" y="1128.2">94</text><text y="1128.2"><tspan class="m" x="790.4" textLength="76.8" lengthAdjust="spacingAndGlyphs">二　宮</tspan><tspan class="p" x="880.5">(</tspan><tspan class="s" x="899" textLength="115">中央ろう</tspan><tspan class="p" x="1025">)</tspan></text></g>
<g id="e95"><text class="n" x="778" y="1153.8">95</text><text y="1153.8"><tspan class="m" x="790.4" textLength="76.8" lengthAdjust="spacingAndGlyphs">得　居</tspan><tspan class="p" x="880.5">(</tspan><tspan class="s" x="899" textLength="115">東農大一</tspan><tspan class="p" x="1025">)</tspan></text></g>
<g id="e96"><text class="n" x="778" y="1179.5">96</text><text y="1179.5"><tspan class="m" x="790.4" textLength="76.8" lengthAdjust="spacingAndGlyphs">加　納</tspan><tspan class="p" x="880.5">(</tspan><tspan class="s" x="899" textLength="115">小山台</tspan><tspan class="p" x="1025">)</tspan></text></g>
<g id="e97"><text class="n" x="778" y="1205.1">97</text><text y="1205.1"><tspan class="m" x="790.4" textLength="76.8" lengthAdjust="spacingAndGlyphs">浅　見</tspan><tspan class="p" x="880.5">(</tspan><tspan class="s" x="899" textLength="115">福生</tspan><tspan class="p" x="1025">)</tspan></text></g>
<g id="e98"><text class="n" x="778" y="1230.7">98</text><text y="1230.7"><tspan class="m" x="790.4" textLength="76.8" lengthAdjust="spacingAndGlyphs">佐　藤</tspan><tspan class="p" x="880.5">(</tspan><tspan class="s" x="899" textLength="115">白百合</tspan><tspan class="p" x="1025">)</tspan></text></g>
<g id="e99"><text class="n" x="778" y="1256.3">99</text><text y="1256.3"><tspan class="m" x="790.4" textLength="76.8" lengthAdjust="spacingAndGlyphs">鬼　頭</tspan><tspan class="p" x="880.5">(</tspan><tspan class="s" x="899" textLength="115">大妻</tspan><tspan class="p" x="1025">)</tspan></text></g>
<g id="e100"><text class="n" x="778" y="1281.9">100</text><text y="1281.9"><tspan class="m" x="790.4" textLength="76.8" lengthAdjust="spacingAndGlyphs">小　川</tspan><tspan class="p" x="880.5">(</tspan><tspan class="s" x="899" textLength="115">青山学院</tspan><tspan class="p" x="1025">)</tspan></text></g>
</g>
<g id="colC">
<g id="e101"><text class="n" x="1120" y="27">101</text><text y="27"><tspan class="m" x="1131.6" textLength="76.4" lengthAdjust="spacingAndGlyphs">　林　</tspan><tspan class="p" x="1218.5">(</tspan><tspan class="s" x="1241" textLength="115">共立女</tspan><tspan class="p" x="1366.5">)</tspan></text></g>
<g id="e102"><text class="n" x="1120" y="52.6">102</text><text y="52.6"><tspan class="m" x="1131.6" textLength="76.4" lengthAdjust="spacingAndGlyphs">帯　刀</tspan><tspan class="p" x="1218.5">(</tspan><tspan class="s" x="1241" textLength="115">跡見学園</tspan><tspan class="p" x="1366.5">)</tspan></text></g>
<g id="e103"><text class="n" x="1120" y="78.2">103</text><text y="78.2"><tspan class="m" x="1131.6" textLength="76.4" lengthAdjust="spacingAndGlyphs">吾　田</tspan><tspan class="p" x="1218.5">(</tspan><tspan class="s" x="1241" textLength="115">白百合</tspan><tspan class="p" x="1366.5">)</tspan></text></g>
<g id="e104"><text class="n" x="1120" y="103.8">104</text><text y="103.8"><tspan class="m" x="1131.6" textLength="76.4" lengthAdjust="spacingAndGlyphs">　関　</tspan><tspan class="p" x="1218.5">(</tspan><tspan class="s" x="1241" textLength="115">淑徳</tspan><tspan class="p" x="1366.5">)</tspan></text></g>
<g id="e105"><text class="n" x="1120" y="129.4">105</text><text y="129.4"><tspan class="m" x="1131.6" textLength="76.4" lengthAdjust="spacingAndGlyphs">関　口</tspan><tspan class="p" x="1218.5">(</tspan><tspan class="s" x="1241" textLength="115">北園</tspan><tspan class="p" x="1366.5">)</tspan></text></g>
<g id="e106"><text class="n" x="1120" y="155.1">106</text><text y="155.1"><tspan class="m" x="1131.6" textLength="76.4" lengthAdjust="spacingAndGlyphs">塚　目</tspan><tspan class="p" x="1218.5">(</tspan><tspan class="s" x="1241" textLength="115">家政大附</tspan><tspan class="p" x="1366.5">)</tspan></text></g>
<g id="e107"><text class="n" x="1120" y="180.7">107</text><text y="180.7"><tspan class="m" x="1131.6" textLength="76.4" lengthAdjust="spacingAndGlyphs">髙　橋</tspan><tspan class="p" x="1218.5">(</tspan><tspan class="s" x="1241" textLength="115">葛飾ろう</tspan><tspan class="p" x="1366.5">)</tspan></text></g>
<g id="e108"><text class="n" x="1120" y="206.3">108</text><text y="206.3"><tspan class="m" x="1131.6" textLength="76.4" lengthAdjust="spacingAndGlyphs">椋　田</tspan><tspan class="p" x="1218.5">(</tspan><tspan class="s" x="1241" textLength="115">都駒場</tspan><tspan class="p" x="1366.5">)</tspan></text></g>
<g id="e109"><text class="n" x="1120" y="231.9">109</text><text y="231.9"><tspan class="m" x="1131.6" textLength="76.4" lengthAdjust="spacingAndGlyphs">谷口晃</tspan><tspan class="p" x="1218.5">(</tspan><tspan class="s" x="1241" textLength="115">大妻</tspan><tspan class="p" x="1366.5">)</tspan></text></g>
<g id="e110"><text class="n" x="1120" y="257.5">110</text><text y="257.5"><tspan class="m" x="1131.6" textLength="76.4" lengthAdjust="spacingAndGlyphs">並　木</tspan><tspan class="p" x="1218.5">(</tspan><tspan class="s" x="1241" textLength="115">東星学園</tspan><tspan class="p" x="1366.5">)</tspan></text></g>
<g id="e111"><text class="n" x="1120" y="283.1">111</text><text y="283.1"><tspan class="m" x="1131.6" textLength="76.4" lengthAdjust="spacingAndGlyphs">大　島</tspan><tspan class="p" x="1218.5">(</tspan><tspan class="s" x="1241" textLength="115">鴎友学園</tspan><tspan class="p" x="1366.5">)</tspan></text></g>
<g id="e112"><text class="n" x="1120" y="308.7">112</text><text y="308.7"><tspan class="m" x="1131.6" textLength="76.4" lengthAdjust="spacingAndGlyphs">中　澤</tspan><tspan class="p" x="1218.5">(</tspan><tspan class="s" x="1241" textLength="115">玉川聖学院</tspan><tspan class="p" x="1366.5">)</tspan></text></g>
<g id="e113"><text class="n" x="1120" y="334.3">113</text><text y="334.3"><tspan class="m" x="1131.6" textLength="76.4" lengthAdjust="spacingAndGlyphs">安　山</tspan><tspan class="p" x="1218.5">(</tspan><tspan class="s" x="1241" textLength="115">淑徳巣鴨</tspan><tspan class="p" x="1366.5">)</tspan></text></g>
<g id="e114"><text class="n" x="1120" y="359.9">114</text><text y="359.9"><tspan class="m" x="1131.6" textLength="76.4" lengthAdjust="spacingAndGlyphs">中　村</tspan><tspan class="p" x="1218.5">(</tspan><tspan class="s" x="1241" textLength="115">日大櫻丘</tspan><tspan class="p" x="1366.5">)</tspan></text></g>
<g id="e115"><text class="n" x="1120" y="385.5">115</text><text y="385.5"><tspan class="m" x="1131.6" textLength="76.4" lengthAdjust="spacingAndGlyphs">夏　井</tspan><tspan class="p" x="1218.5">(</tspan><tspan class="s" x="1241" textLength="115">青稜</tspan><tspan class="p" x="1366.5">)</tspan></text></g>
<g id="e116"><text class="n" x="1120" y="411.2">116</text><text y="411.2"><tspan class="m" x="1131.6" textLength="76.4" lengthAdjust="spacingAndGlyphs">西　野</tspan><tspan class="p" x="1218.5">(</tspan><tspan class="s" x="1241" textLength="115">瑞穂農芸</tspan><tspan class="p" x="1366.5">)</tspan></text></g>
<g id="e117"><text class="n" x="1120" y="436.8">117</text><text y="436.8"><tspan class="m" x="1131.6" textLength="76.4" lengthAdjust="spacingAndGlyphs">香　川</tspan><tspan class="p" x="1218.5">(</tspan><tspan class="s" x="1241" textLength="115">田調学園</tspan><tspan class="p" x="1366.5">)</tspan></text></g>
<g id="e118"><text class="n" x="1120" y="462.4">118</text><text y="462.4"><tspan class="p" x="1218.5">(</tspan><tspan class="p" x="1366.5">)</tspan></text></g>
<g id="e119"><text class="n" x="1120" y="488">119</text><text y="488"><tspan class="m" x="1131.6" textLength="76.4" lengthAdjust="spacingAndGlyphs">安　井</tspan><tspan class="p" x="1218.5">(</tspan><tspan class="s" x="1241" textLength="115">北豊島</tspan><tspan class="p" x="1366.5">)</tspan></text></g>
<g id="e120"><text class="n" x="1120" y="513.6">120</text><text y="513.6"><tspan class="m" x="1131.6" textLength="76.4" lengthAdjust="spacingAndGlyphs">織　本</tspan><tspan class="p" x="1218.5">(</tspan><tspan class="s" x="1241" textLength="115">調布南</tspan><tspan class="p" x="1366.5">)</tspan></text></g>
<g id="e121"><text class="n" x="1120" y="539.2">121</text><text y="539.2"><tspan class="m" x="1131.6" textLength="76.4" lengthAdjust="spacingAndGlyphs">遠　山</tspan><tspan class="p" x="1218.5">(</tspan><tspan class="s" x="1241" textLength="115">田調雙葉</tspan><tspan class="p" x="1366.5">)</tspan></text></g>
<g id="e122"><text class="n" x="1120" y="564.8">122</text><text y="564.8"><tspan class="m" x="1131.6" textLength="76.4" lengthAdjust="spacingAndGlyphs">　角　</tspan><tspan class="p" x="1218.5">(</tspan><tspan class="s" x="1241" textLength="115">跡見学園</tspan><tspan class="p" x="1366.5">)</tspan></text></g>
<g id="e123"><text class="n" x="1120" y="590.4">123</text><text y="590.4"><tspan class="m" x="1131.6" textLength="76.4" lengthAdjust="spacingAndGlyphs">高　橋</tspan><tspan class="p" x="1218.5">(</tspan><tspan class="s" x="1241" textLength="115">慶應女</tspan><tspan class="p" x="1366.5">)</tspan></text></g>
<g id="e124"><text class="n" x="1120" y="616">124</text><text y="616"><tspan class="m" x="1131.6" textLength="76.4" lengthAdjust="spacingAndGlyphs">小　澤</tspan><tspan class="p" x="1218.5">(</tspan><tspan class="s" x="1241" textLength="115">大成</tspan><tspan class="p" x="1366.5">)</tspan></text></g>
<g id="e125"><text class="n" x="1120" y="641.6">125</text><text y="641.6"><tspan class="m" x="1131.6" textLength="76.4" lengthAdjust="spacingAndGlyphs">工　藤</tspan><tspan class="p" x="1218.5">(</tspan><tspan class="s" x="1241" textLength="115">大崎</tspan><tspan class="p" x="1366.5">)</tspan></text></g>
<g id="e126"><text class="n" x="1120" y="667.3">126</text><text y="667.3"><tspan class="m" x="1131.6" textLength="76.4" lengthAdjust="spacingAndGlyphs">浅　沼</tspan><tspan class="p" x="1218.5">(</tspan><tspan class="s" x="1241" textLength="115">八丈</tspan><tspan class="p" x="1366.5">)</tspan></text></g>
<g id="e127"><text class="n" x="1120" y="692.9">127</text><text y="692.9"><tspan class="m" x="1131.6" textLength="76.4" lengthAdjust="spacingAndGlyphs">前　澤</tspan><tspan class="p" x="1218.5">(</tspan><tspan class="s" x="1241" textLength="115">十文字</tspan><tspan class="p" x="1366.5">)</tspan></text></g>
<g id="e128"><text class="n" x="1120" y="718.5">128</text><text y="718.5"><tspan class="m" x="1131.6" textLength="76.4" lengthAdjust="spacingAndGlyphs">阿　部</tspan><tspan class="p" x="1218.5">(</tspan><tspan class="s" x="1241" textLength="115">田調学園</tspan><tspan class="p" x="1366.5">)</tspan></text></g>
<g id="e129"><text class="n" x="1120" y="744.1">129</text><text y="744.1"><tspan class="m" x="1131.6" textLength="76.4" lengthAdjust="spacingAndGlyphs">古　賀</tspan><tspan class="p" x="1218.5">(</tspan><tspan class="s" x="1241" textLength="115">小山台</tspan><tspan class="p" x="1366.5">)</tspan></text></g>
<g id="e130"><text class="n" x="1120" y="769.7">130</text><text y="769.7"><tspan class="m" x="1131.6" textLength="76.4" lengthAdjust="spacingAndGlyphs">小　室</tspan><tspan class="p" x="1218.5">(</tspan><tspan class="s" x="1241" textLength="115">文京学院</tspan><tspan class="p" x="1366.5">)</tspan></text></g>
<g id="e131"><text class="n" x="1120" y="795.3">131</text><text y="795.3"><tspan class="m" x="1131.6" textLength="76.4" lengthAdjust="spacingAndGlyphs">江　本</tspan><tspan class="p" x="1218.5">(</tspan><tspan class="s" x="1241" textLength="115">白百合</tspan><tspan class="p" x="1366.5">)</tspan></text></g>
<g id="e132"><text class="n" x="1120" y="820.9">132</text><text y="820.9"><tspan class="m" x="1131.6" textLength="76.4" lengthAdjust="spacingAndGlyphs">大　木</tspan><tspan class="p" x="1218.5">(</tspan><tspan class="s" x="1241" textLength="115">日大二</tspan><tspan class="p" x="1366.5">)</tspan></text></g>
<g id="e133"><text class="n" x="1120" y="846.5">133</text><text y="846.5"><tspan class="m" x="1131.6" textLength="76.4" lengthAdjust="spacingAndGlyphs">米　田</tspan><tspan class="p" x="1218.5">(</tspan><tspan class="s" x="1241" textLength="115">八王子東</tspan><tspan class="p" x="1366.5">)</tspan></text></g>
<g id="e134"><text class="n" x="1120" y="872.1">134</text><text y="872.1"><tspan class="m" x="1131.6" textLength="76.4" lengthAdjust="spacingAndGlyphs">河　内</tspan><tspan class="p" x="1218.5">(</tspan><tspan class="s" x="1241" textLength="115">大妻中野</tspan><tspan class="p" x="1366.5">)</tspan></text></g>
<g id="e135"><text class="n" x="1120" y="897.7">135</text><text y="897.7"><tspan class="m" x="1131.6" textLength="76.4" lengthAdjust="spacingAndGlyphs">斎　藤</tspan><tspan class="p" x="1218.5">(</tspan><tspan class="s" x="1241" textLength="115">三輪田</tspan><tspan class="p" x="1366.5">)</tspan></text></g>
<g id="e136"><text class="n" x="1120" y="923.4">136</text><text y="923.4"><tspan class="m" x="1131.6" textLength="76.4" lengthAdjust="spacingAndGlyphs">菊　島</tspan><tspan class="p" x="1218.5">(</tspan><tspan class="s" x="1241" textLength="115">関東国際</tspan><tspan class="p" x="1366.5">)</tspan></text></g>
<g id="e137"><text class="n" x="1120" y="949">137</text><text y="949"><tspan class="m" x="1131.6" textLength="76.4" lengthAdjust="spacingAndGlyphs">池　田</tspan><tspan class="p" x="1218.5">(</tspan><tspan class="s" x="1241" textLength="115">鴎友学園</tspan><tspan class="p" x="1366.5">)</tspan></text></g>
<g id="e138"><text class="n" x="1120" y="974.6">138</text><text y="974.6"><tspan class="m" x="1131.6" textLength="76.4" lengthAdjust="spacingAndGlyphs">井　川</tspan><tspan class="p" x="1218.5">(</tspan><tspan class="s" x="1241" textLength="115">小川</tspan><tspan class="p" x="1366.5">)</tspan></text></g>
<g id="e139"><text class="n" x="1120" y="1000.2">139</text><text y="1000.2"><tspan class="m" x="1131.6" textLength="76.4" lengthAdjust="spacingAndGlyphs">権　藤</tspan><tspan class="p" x="1218.5">(</tspan><tspan class="s" x="1241" textLength="115">日大豊山女</tspan><tspan class="p" x="1366.5">)</tspan></text></g>
<g id="e140"><text class="n" x="1120" y="1025.8">140</text><text y="1025.8"><tspan class="m" x="1131.6" textLength="76.4" lengthAdjust="spacingAndGlyphs">伊　藤</tspan><tspan class="p" x="1218.5">(</tspan><tspan class="s" x="1241" textLength="115">豊島岡</tspan><tspan class="p" x="1366.5">)</tspan></text></g>
<g id="e141"><text class="n" x="1120" y="1051.4">141</text><text y="1051.4"><tspan class="m" x="1131.6" textLength="76.4" lengthAdjust="spacingAndGlyphs">大　和</tspan><tspan class="p" x="1218.5">(</tspan><tspan class="s" x="1241" textLength="115">実践女</tspan><tspan class="p" x="1366.5">)</tspan></text></g>
<g id="e142"><text class="n" x="1120" y="1077">142</text><text y="1077"><tspan class="m" x="1131.6" textLength="76.4" lengthAdjust="spacingAndGlyphs">竹　中</tspan><tspan class="p" x="1218.5">(</tspan><tspan class="s" x="1241" textLength="115">東農大一</tspan><tspan class="p" x="1366.5">)</tspan></text></g>
<g id="e143"><text class="n" x="1120" y="1102.6">143</text><text y="1102.6"><tspan class="m" x="1131.6" textLength="76.4" lengthAdjust="spacingAndGlyphs">中　井</tspan><tspan class="p" x="1218.5">(</tspan><tspan class="s" x="1241" textLength="115">第一商</tspan><tspan class="p" x="1366.5">)</tspan></text></g>
<g id="e144"><text class="n" x="1120" y="1128.2">144</text><text y="1128.2"><tspan class="m" x="1131.6" textLength="76.4" lengthAdjust="spacingAndGlyphs">三　橋</tspan><tspan class="p" x="1218.5">(</tspan><tspan class="s" x="1241" textLength="115" style="font-size:17px">東久留米総合</tspan><tspan class="p" x="1366.5">)</tspan></text></g>
<g id="e145"><text class="n" x="1120" y="1153.8">145</text><text y="1153.8"><tspan class="m" x="1131.6" textLength="76.4" lengthAdjust="spacingAndGlyphs">熊　野</tspan><tspan class="p" x="1218.5">(</tspan><tspan class="s" x="1241" textLength="115">桐朋女</tspan><tspan class="p" x="1366.5">)</tspan></text></g>
<g id="e146"><text class="n" x="1120" y="1179.5">146</text><text y="1179.5"><tspan class="m" x="1131.6" textLength="76.4" lengthAdjust="spacingAndGlyphs">佐々木</tspan><tspan class="p" x="1218.5">(</tspan><tspan class="s" x="1241" textLength="115">宝仙</tspan><tspan class="p" x="1366.5">)</tspan></text></g>
<g id="e147"><text class="n" x="1120" y="1205.1">147</text><text y="1205.1"><tspan class="m" x="1131.6" textLength="76.4" lengthAdjust="spacingAndGlyphs">松　村</tspan><tspan class="p" x="1218.5">(</tspan><tspan class="s" x="1241" textLength="115">青山学院</tspan><tspan class="p" x="1366.5">)</tspan></text></g>
<g id="e148"><text class="n" x="1120" y="1230.7">148</text><text y="1230.7"><tspan class="m" x="1131.6" textLength="76.4" lengthAdjust="spacingAndGlyphs">佐　立</tspan><tspan class="p" x="1218.5">(</tspan><tspan class="s" x="1241" textLength="115">大妻</tspan><tspan class="p" x="1366.5">)</tspan></text></g>
<g id="e149"><text class="n" x="1120" y="1256.3">149</text><text y="1256.3"><tspan class="m" x="1131.6" textLength="76.4" lengthAdjust="spacingAndGlyphs">柿　原</tspan><tspan class="p" x="1218.5">(</tspan><tspan class="s" x="1241" textLength="115">田調学園</tspan><tspan class="p" x="1366.5">)</tspan></text></g>
<g id="e150"><text class="n" x="1120" y="1281.9">150</text><text y="1281.9"><tspan class="m" x="1131.6" textLength="76.4" lengthAdjust="spacingAndGlyphs">鋤　柄</tspan><tspan class="p" x="1218.5">(</tspan><tspan class="s" x="1241" textLength="115">跡見学園</tspan><tspan class="p" x="1366.5">)</tspan></text></g>
</g>
<g id="colD">
<g id="e151"><text class="n" x="1846" y="27">151</text><text y="27"><tspan class="m" x="1858.4" textLength="76.8" lengthAdjust="spacingAndGlyphs">渡　邊</tspan><tspan class="p" x="1948.5">(</tspan><tspan class="s" x="1967.5" textLength="115">青山学院</tspan><tspan class="p" x="2093">)</tspan></text></g>
<g id="e152"><text class="n" x="1846" y="52.6">152</text><text y="52.6"><tspan class="m" x="1858.4" textLength="76.8" lengthAdjust="spacingAndGlyphs">佐々木</tspan><tspan class="p" x="1948.5">(</tspan><tspan class="s" x="1967.5" textLength="115">大妻中野</tspan><tspan class="p" x="2093">)</tspan></text></g>
<g id="e153"><text class="n" x="1846" y="78.2">153</text><text y="78.2"><tspan class="m" x="1858.4" textLength="76.8" lengthAdjust="spacingAndGlyphs">新　井</tspan><tspan class="p" x="1948.5">(</tspan><tspan class="s" x="1967.5" textLength="115">豊島岡</tspan><tspan class="p" x="2093">)</tspan></text></g>
<g id="e154"><text class="n" x="1846" y="103.8">154</text><text y="103.8"><tspan class="m" x="1858.4" textLength="76.8" lengthAdjust="spacingAndGlyphs">朝　倉</tspan><tspan class="p" x="1948.5">(</tspan><tspan class="s" x="1967.5" textLength="115">聖心女</tspan><tspan class="p" x="2093">)</tspan></text></g>
<g id="e155"><text class="n" x="1846" y="129.4">155</text><text y="129.4"><tspan class="m" x="1858.4" textLength="76.8" lengthAdjust="spacingAndGlyphs">田　中</tspan><tspan class="p" x="1948.5">(</tspan><tspan class="s" x="1967.5" textLength="115">田無</tspan><tspan class="p" x="2093">)</tspan></text></g>
<g id="e156"><text class="n" x="1846" y="155.1">156</text><text y="155.1"><tspan class="m" x="1858.4" textLength="76.8" lengthAdjust="spacingAndGlyphs">坂　川</tspan><tspan class="p" x="1948.5">(</tspan><tspan class="s" x="1967.5" textLength="115">田調学園</tspan><tspan class="p" x="2093">)</tspan></text></g>
<g id="e157"><text class="n" x="1846" y="180.7">157</text><text y="180.7"><tspan class="m" x="1858.4" textLength="76.8" lengthAdjust="spacingAndGlyphs">掛　本</tspan><tspan class="p" x="1948.5">(</tspan><tspan class="s" x="1967.5" textLength="115">明星</tspan><tspan class="p" x="2093">)</tspan></text></g>
<g id="e158"><text class="n" x="1846" y="206.3">158</text><text y="206.3"><tspan class="m" x="1858.4" textLength="76.8" lengthAdjust="spacingAndGlyphs">飯　山</tspan><tspan class="p" x="1948.5">(</tspan><tspan class="s" x="1967.5" textLength="115">創価</tspan><tspan class="p" x="2093">)</tspan></text></g>
<g id="e159"><text class="n" x="1846" y="231.9">159</text><text y="231.9"><tspan class="m" x="1858.4" textLength="76.8" lengthAdjust="spacingAndGlyphs">荒　井</tspan><tspan class="p" x="1948.5">(</tspan><tspan class="s" x="1967.5" textLength="115">学習院女</tspan><tspan class="p" x="2093">)</tspan></text></g>
<g id="e160"><text class="n" x="1846" y="257.5">160</text><text y="257.5"><tspan class="m" x="1858.4" textLength="76.8" lengthAdjust="spacingAndGlyphs">飯　田</tspan><tspan class="p" x="1948.5">(</tspan><tspan class="s" x="1967.5" textLength="115">跡見学園</tspan><tspan class="p" x="2093">)</tspan></text></g>
<g id="e161"><text class="n" x="1846" y="283.1">161</text><text y="283.1"><tspan class="m" x="1858.4" textLength="76.8" lengthAdjust="spacingAndGlyphs">久　野</tspan><tspan class="p" x="1948.5">(</tspan><tspan class="s" x="1967.5" textLength="115">山脇</tspan><tspan class="p" x="2093">)</tspan></text></g>
<g id="e162"><text class="n" x="1846" y="308.7">162</text><text y="308.7"><tspan class="m" x="1858.4" textLength="76.8" lengthAdjust="spacingAndGlyphs">小　川</tspan><tspan class="p" x="1948.5">(</tspan><tspan class="s" x="1967.5" textLength="115">三輪田</tspan><tspan class="p" x="2093">)</tspan></text></g>
<g id="e163"><text class="n" x="1846" y="334.3">163</text><text y="334.3"><tspan class="m" x="1858.4" textLength="76.8" lengthAdjust="spacingAndGlyphs">鈴　木</tspan><tspan class="p" x="1948.5">(</tspan><tspan class="s" x="1967.5" textLength="115">小岩</tspan><tspan class="p" x="2093">)</tspan></text></g>
<g id="e164"><text class="n" x="1846" y="359.9">164</text><text y="359.9"><tspan class="m" x="1858.4" textLength="76.8" lengthAdjust="spacingAndGlyphs">鬼　澤</tspan><tspan class="p" x="1948.5">(</tspan><tspan class="s" x="1967.5" textLength="115">　西　</tspan><tspan class="p" x="2093">)</tspan></text></g>
<g id="e165"><text class="n" x="1846" y="385.5">165</text><text y="385.5"><tspan class="m" x="1858.4" textLength="76.8" lengthAdjust="spacingAndGlyphs">荒　巻</tspan><tspan class="p" x="1948.5">(</tspan><tspan class="s" x="1967.5" textLength="115">大成</tspan><tspan class="p" x="2093">)</tspan></text></g>
<g id="e166"><text class="n" x="1846" y="411.2">166</text><text y="411.2"><tspan class="m" x="1858.4" textLength="76.8" lengthAdjust="spacingAndGlyphs">野子谷</tspan><tspan class="p" x="1948.5">(</tspan><tspan class="s" x="1967.5" textLength="115">足立新田</tspan><tspan class="p" x="2093">)</tspan></text></g>
<g id="e167"><text class="n" x="1846" y="436.8">167</text><text y="436.8"><tspan class="m" x="1858.4" textLength="76.8" lengthAdjust="spacingAndGlyphs">　勝　</tspan><tspan class="p" x="1948.5">(</tspan><tspan class="s" x="1967.5" textLength="115">十文字</tspan><tspan class="p" x="2093">)</tspan></text></g>
<g id="e168"><text class="n" x="1846" y="462.4">168</text><text y="462.4"><tspan class="p" x="1948.5">(</tspan><tspan class="p" x="2093">)</tspan></text></g>
<g id="e169"><text class="n" x="1846" y="488">169</text><text y="488"><tspan class="m" x="1858.4" textLength="76.8" lengthAdjust="spacingAndGlyphs">香　月</tspan><tspan class="p" x="1948.5">(</tspan><tspan class="s" x="1967.5" textLength="115">町田工</tspan><tspan class="p" x="2093">)</tspan></text></g>
<g id="e170"><text class="n" x="1846" y="513.6">170</text><text y="513.6"><tspan class="m" x="1858.4" textLength="76.8" lengthAdjust="spacingAndGlyphs">伊　藤</tspan><tspan class="p" x="1948.5">(</tspan><tspan class="s" x="1967.5" textLength="115">文教大付</tspan><tspan class="p" x="2093">)</tspan></text></g>
<g id="e171"><text class="n" x="1846" y="539.2">171</text><text y="539.2"><tspan class="m" x="1858.4" textLength="76.8" lengthAdjust="spacingAndGlyphs">坂　本</tspan><tspan class="p" x="1948.5">(</tspan><tspan class="s" x="1967.5" textLength="115">貞静</tspan><tspan class="p" x="2093">)</tspan></text></g>
<g id="e172"><text class="n" x="1846" y="564.8">172</text><text y="564.8"><tspan class="m" x="1858.4" textLength="76.8" lengthAdjust="spacingAndGlyphs">山口衿</tspan><tspan class="p" x="1948.5">(</tspan><tspan class="s" x="1967.5" textLength="115">中央大学</tspan><tspan class="p" x="2093">)</tspan></text></g>
<g id="e173"><text class="n" x="1846" y="590.4">173</text><text y="590.4"><tspan class="m" x="1858.4" textLength="76.8" lengthAdjust="spacingAndGlyphs">江　馬</tspan><tspan class="p" x="1948.5">(</tspan><tspan class="s" x="1967.5" textLength="115">実践女</tspan><tspan class="p" x="2093">)</tspan></text></g>
<g id="e174"><text class="n" x="1846" y="616">174</text><text y="616"><tspan class="m" x="1858.4" textLength="76.8" lengthAdjust="spacingAndGlyphs">片　山</tspan><tspan class="p" x="1948.5">(</tspan><tspan class="s" x="1967.5" textLength="115">桐朋女</tspan><tspan class="p" x="2093">)</tspan></text></g>
<g id="e175"><text class="n" x="1846" y="641.6">175</text><text y="641.6"><tspan class="m" x="1858.4" textLength="76.8" lengthAdjust="spacingAndGlyphs">並　木</tspan><tspan class="p" x="1948.5">(</tspan><tspan class="s" x="1967.5" textLength="115">田調雙葉</tspan><tspan class="p" x="2093">)</tspan></text></g>
<g id="e176"><text class="n" x="1846" y="667.3">176</text><text y="667.3"><tspan class="m" x="1858.4" textLength="76.8" lengthAdjust="spacingAndGlyphs">平　井</tspan><tspan class="p" x="1948.5">(</tspan><tspan class="s" x="1967.5" textLength="115">武蔵</tspan><tspan class="p" x="2093">)</tspan></text></g>
<g id="e177"><text class="n" x="1846" y="692.9">177</text><text y="692.9"><tspan class="m" x="1858.4" textLength="76.8" lengthAdjust="spacingAndGlyphs">大　橋</tspan><tspan class="p" x="1948.5">(</tspan><tspan class="s" x="1967.5" textLength="115">大妻</tspan><tspan class="p" x="2093">)</tspan></text></g>
<g id="e178"><text class="n" x="1846" y="718.5">178</text><text y="718.5"><tspan class="m" x="1858.4" textLength="76.8" lengthAdjust="spacingAndGlyphs">佐々木</tspan><tspan class="p" x="1948.5">(</tspan><tspan class="s" x="1967.5" textLength="115">玉川聖学院</tspan><tspan class="p" x="2093">)</tspan></text></g>
<g id="e179"><text class="n" x="1846" y="744.1">179</text><text y="744.1"><tspan class="m" x="1858.4" textLength="76.8" lengthAdjust="spacingAndGlyphs">中村優</tspan><tspan class="p" x="1948.5">(</tspan><tspan class="s" x="1967.5" textLength="115">共立女</tspan><tspan class="p" x="2093">)</tspan></text></g>
<g id="e180"><text class="n" x="1846" y="769.7">180</text><text y="769.7"><tspan class="m" x="1858.4" textLength="76.8" lengthAdjust="spacingAndGlyphs">佐　藤</tspan><tspan class="p" x="1948.5">(</tspan><tspan class="s" x="1967.5" textLength="115">大崎</tspan><tspan class="p" x="2093">)</tspan></text></g>
<g id="e181"><text class="n" x="1846" y="795.3">181</text><text y="795.3"><tspan class="m" x="1858.4" textLength="76.8" lengthAdjust="spacingAndGlyphs">川　﨑</tspan><tspan class="p" x="1948.5">(</tspan><tspan class="s" x="1967.5" textLength="115">東京成徳</tspan><tspan class="p" x="2093">)</tspan></text></g>
<g id="e182"><text class="n" x="1846" y="820.9">182</text><text y="820.9"><tspan class="m" x="1858.4" textLength="76.8" lengthAdjust="spacingAndGlyphs">池　田</tspan><tspan class="p" x="1948.5">(</tspan><tspan class="s" x="1967.5" textLength="115">上水</tspan><tspan class="p" x="2093">)</tspan></text></g>
<g id="e183"><text class="n" x="1846" y="846.5">183</text><text y="846.5"><tspan class="m" x="1858.4" textLength="76.8" lengthAdjust="spacingAndGlyphs">　椿　</tspan><tspan class="p" x="1948.5">(</tspan><tspan class="s" x="1967.5" textLength="115">立川国際</tspan><tspan class="p" x="2093">)</tspan></text></g>
<g id="e184"><text class="n" x="1846" y="872.1">184</text><text y="872.1"><tspan class="m" x="1858.4" textLength="76.8" lengthAdjust="spacingAndGlyphs">海　野</tspan><tspan class="p" x="1948.5">(</tspan><tspan class="s" x="1967.5" textLength="115">大妻中野</tspan><tspan class="p" x="2093">)</tspan></text></g>
<g id="e185"><text class="n" x="1846" y="897.7">185</text><text y="897.7"><tspan class="m" x="1858.4" textLength="76.8" lengthAdjust="spacingAndGlyphs">宮　澤</tspan><tspan class="p" x="1948.5">(</tspan><tspan class="s" x="1967.5" textLength="115">吉祥女</tspan><tspan class="p" x="2093">)</tspan></text></g>
<g id="e186"><text class="n" x="1846" y="923.4">186</text><text y="923.4"><tspan class="m" x="1858.4" textLength="76.8" lengthAdjust="spacingAndGlyphs">澤　本</tspan><tspan class="p" x="1948.5">(</tspan><tspan class="s" x="1967.5" textLength="115">跡見学園</tspan><tspan class="p" x="2093">)</tspan></text></g>
<g id="e187"><text class="n" x="1846" y="949">187</text><text y="949"><tspan class="m" x="1858.4" textLength="76.8" lengthAdjust="spacingAndGlyphs">田　邉</tspan><tspan class="p" x="1948.5">(</tspan><tspan class="s" x="1967.5" textLength="115">田調学園</tspan><tspan class="p" x="2093">)</tspan></text></g>
<g id="e188"><text class="n" x="1846" y="974.6">188</text><text y="974.6"><tspan class="m" x="1858.4" textLength="76.8" lengthAdjust="spacingAndGlyphs">西　村</tspan><tspan class="p" x="1948.5">(</tspan><tspan class="s" x="1967.5" textLength="115">淑徳</tspan><tspan class="p" x="2093">)</tspan></text></g>
<g id="e189"><text class="n" x="1846" y="1000.2">189</text><text y="1000.2"><tspan class="m" x="1858.4" textLength="76.8" lengthAdjust="spacingAndGlyphs">森　下</tspan><tspan class="p" x="1948.5">(</tspan><tspan class="s" x="1967.5" textLength="115">第五商</tspan><tspan class="p" x="2093">)</tspan></text></g>
<g id="e190"><text class="n" x="1846" y="1025.8">190</text><text y="1025.8"><tspan class="m" x="1858.4" textLength="76.8" lengthAdjust="spacingAndGlyphs">持　田</tspan><tspan class="p" x="1948.5">(</tspan><tspan class="s" x="1967.5" textLength="115">白百合</tspan><tspan class="p" x="2093">)</tspan></text></g>
<g id="e191"><text class="n" x="1846" y="1051.4">191</text><text y="1051.4"><tspan class="m" x="1858.4" textLength="76.8" lengthAdjust="spacingAndGlyphs">伊　藤</tspan><tspan class="p" x="1948.5">(</tspan><tspan class="s" x="1967.5" textLength="115">紅葉川</tspan><tspan class="p" x="2093">)</tspan></text></g>
<g id="e192"><text class="n" x="1846" y="1077">192</text><text y="1077"><tspan class="m" x="1858.4" textLength="76.8" lengthAdjust="spacingAndGlyphs">　権　</tspan><tspan class="p" x="1948.5">(</tspan><tspan class="s" x="1967.5" textLength="115">大成</tspan><tspan class="p" x="2093">)</tspan></text></g>
<g id="e193"><text class="n" x="1846" y="1102.6">193</text><text y="1102.6"><tspan class="m" x="1858.4" textLength="76.8" lengthAdjust="spacingAndGlyphs">石　井</tspan><tspan class="p" x="1948.5">(</tspan><tspan class="s" x="1967.5" textLength="115">城東</tspan><tspan class="p" x="2093">)</tspan></text></g>
<g id="e194"><text class="n" x="1846" y="1128.2">194</text><text y="1128.2"><tspan class="m" x="1858.4" textLength="76.8" lengthAdjust="spacingAndGlyphs">柳　瀬</tspan><tspan class="p" x="1948.5">(</tspan><tspan class="s" x="1967.5" textLength="115">八潮</tspan><tspan class="p" x="2093">)</tspan></text></g>
<g id="e195"><text class="n" x="1846" y="1153.8">195</text><text y="1153.8"><tspan class="m" x="1858.4" textLength="76.8" lengthAdjust="spacingAndGlyphs">谷　村</tspan><tspan class="p" x="1948.5">(</tspan><tspan class="s" x="1967.5" textLength="115">跡見学園</tspan><tspan class="p" x="2093">)</tspan></text></g>
<g id="e196"><text class="n" x="1846" y="1179.5">196</text><text y="1179.5"><tspan class="p" x="1948.5">(</tspan><tspan class="p" x="2093">)</tspan></text></g>
<g id="e197"><text class="n" x="1846" y="1205.1">197</text><text y="1205.1"><tspan class="m" x="1858.4" textLength="76.8" lengthAdjust="spacingAndGlyphs">花　見</tspan><tspan class="p" x="1948.5">(</tspan><tspan class="s" x="1967.5" textLength="115">麹町学園</tspan><tspan class="p" x="2093">)</tspan></text></g>
<g id="e198"><text class="n" x="1846" y="1230.7">198</text><text y="1230.7"><tspan class="m" x="1858.4" textLength="76.8" lengthAdjust="spacingAndGlyphs">長　野</tspan><tspan class="p" x="1948.5">(</tspan><tspan class="s" x="1967.5" textLength="115">三輪田</tspan><tspan class="p" x="2093">)</tspan></text></g>
<g id="e199"><text class="n" x="1846" y="1256.3">199</text><text y="1256.3"><tspan class="m" x="1858.4" textLength="76.8" lengthAdjust="spacingAndGlyphs">柳　井</tspan><tspan class="p" x="1948.5">(</tspan><tspan class="s" x="1967.5" textLength="115">鴎友学園</tspan><tspan class="p" x="2093">)</tspan></text></g>
<g id="e200"><text class="n" x="1846" y="1281.9">200</text><text y="1281.9"><tspan class="m" x="1858.4" textLength="76.8" lengthAdjust="spacingAndGlyphs">島　嵜</tspan><tspan class="p" x="1948.5">(</tspan><tspan class="s" x="1967.5" textLength="115">家政大附</tspan><tspan class="p" x="2093">)</tspan></text></g>
</g>
</svg>
